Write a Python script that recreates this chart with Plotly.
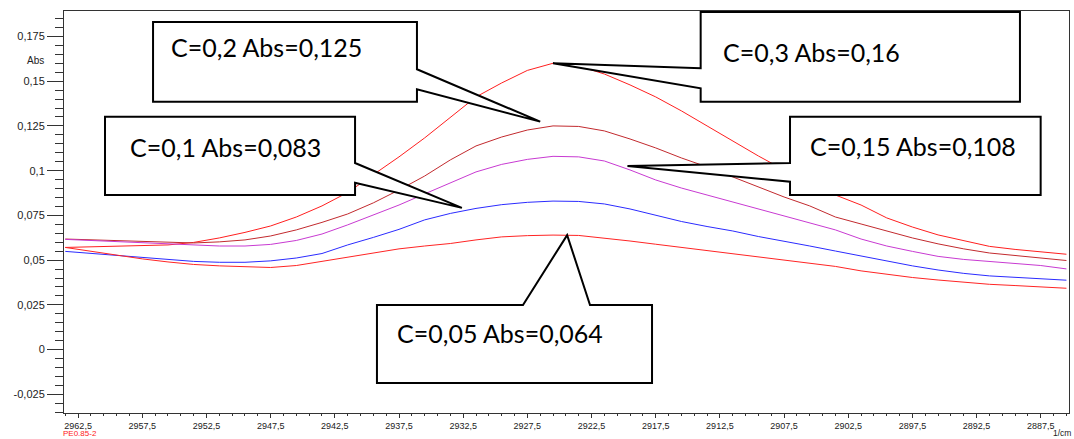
import numpy as np
import plotly.graph_objects as go

# Wavenumber grid (1/cm), sampled every 2 cm-1
wavenumber = [2963.5, 2961.5, 2959.5, 2957.5, 2955.5, 2953.5, 2951.5, 2949.5, 2947.5, 2945.5,
              2943.5, 2941.5, 2939.5, 2937.5, 2935.5, 2933.5, 2931.5, 2929.5, 2927.5, 2925.5,
              2923.5, 2921.5, 2919.5, 2917.5, 2915.5, 2913.5, 2911.5, 2909.5, 2907.5, 2905.5,
              2903.5, 2901.5, 2899.5, 2897.5, 2895.5, 2893.5, 2891.5, 2889.5, 2887.5, 2885.5]

# Absorbance spectra for each concentration
abs_c030 = [0.0571, 0.0574, 0.0577, 0.0579, 0.0585, 0.0599, 0.0624, 0.0655, 0.0691, 0.0741,
            0.0803, 0.0878, 0.0976, 0.1077, 0.1183, 0.1300, 0.1412, 0.1490, 0.1560, 0.1600,
            0.1585, 0.1540, 0.1479, 0.1412, 0.1334, 0.1250, 0.1166, 0.1082, 0.1004, 0.0931,
            0.0864, 0.0808, 0.0736, 0.0685, 0.0641, 0.0607, 0.0577, 0.0560, 0.0546, 0.0533]
abs_c020 = [0.0618, 0.0613, 0.0607, 0.0602, 0.0599, 0.0596, 0.0602, 0.0613, 0.0635, 0.0669,
            0.0711, 0.0758, 0.0820, 0.0892, 0.0970, 0.1060, 0.1138, 0.1188, 0.1227, 0.1250,
            0.1247, 0.1222, 0.1177, 0.1127, 0.1071, 0.1021, 0.0965, 0.0909, 0.0853, 0.0803,
            0.0741, 0.0702, 0.0663, 0.0624, 0.0591, 0.0563, 0.0540, 0.0526, 0.0515, 0.0498]
abs_c015 = [0.0616, 0.0610, 0.0604, 0.0596, 0.0591, 0.0582, 0.0579, 0.0579, 0.0588, 0.0610,
            0.0646, 0.0697, 0.0753, 0.0808, 0.0870, 0.0931, 0.0993, 0.1035, 0.1063, 0.1080,
            0.1077, 0.1054, 0.1004, 0.0948, 0.0903, 0.0864, 0.0825, 0.0783, 0.0747, 0.0705,
            0.0669, 0.0618, 0.0579, 0.0549, 0.0521, 0.0504, 0.0492, 0.0482, 0.0470, 0.0451]
abs_c010 = [0.0549, 0.0537, 0.0526, 0.0515, 0.0504, 0.0493, 0.0488, 0.0488, 0.0496, 0.0512,
            0.0537, 0.0585, 0.0627, 0.0672, 0.0725, 0.0761, 0.0789, 0.0810, 0.0823, 0.0830,
            0.0828, 0.0814, 0.0786, 0.0750, 0.0716, 0.0688, 0.0663, 0.0632, 0.0607, 0.0579,
            0.0551, 0.0523, 0.0496, 0.0468, 0.0445, 0.0426, 0.0412, 0.0403, 0.0398, 0.0388]
abs_c005 = [0.0571, 0.0549, 0.0526, 0.0507, 0.0490, 0.0476, 0.0468, 0.0462, 0.0459, 0.0470,
            0.0493, 0.0515, 0.0540, 0.0563, 0.0579, 0.0593, 0.0613, 0.0630, 0.0637, 0.0640,
            0.0638, 0.0624, 0.0607, 0.0589, 0.0571, 0.0554, 0.0535, 0.0517, 0.0498, 0.0482,
            0.0465, 0.0440, 0.0420, 0.0403, 0.0389, 0.0377, 0.0365, 0.0358, 0.0352, 0.0343]

series = [
    ("C=0,3", abs_c030, "#ff1f1f"),
    ("C=0,2", abs_c020, "#c22a2e"),
    ("C=0,15", abs_c015, "#c83ad2"),
    ("C=0,1", abs_c010, "#2b2bff"),
    ("C=0,05", abs_c005, "#ff2424"),
]

# Axis ticks
x_tickvals = [2962.5, 2957.5, 2952.5, 2947.5, 2942.5, 2937.5, 2932.5, 2927.5,
              2922.5, 2917.5, 2912.5, 2907.5, 2902.5, 2897.5, 2892.5, 2887.5]
x_ticktext = ["2962,5", "2957,5", "2952,5", "2947,5", "2942,5", "2937,5", "2932,5", "2927,5",
              "2922,5", "2917,5", "2912,5", "2907,5", "2902,5", "2897,5", "2892,5", "2887,5"]
y_tickvals = [-0.025, 0.0, 0.025, 0.05, 0.075, 0.1, 0.125, 0.15, 0.175]
y_ticktext = ["-0,025", "0", "0,025", "0,05", "0,075", "0,1", "0,125", "0,15", "0,175"]

X_RANGE = [2963.6, 2885.3]
Y_RANGE = [-0.0354, 0.1892]


def to_paper(w, a):
    px = (w - X_RANGE[0]) / (X_RANGE[1] - X_RANGE[0])
    py = (a - Y_RANGE[0]) / (Y_RANGE[1] - Y_RANGE[0])
    return px, py


fig = go.Figure()
for name, vals, color in series:
    fig.add_trace(go.Scatter(x=wavenumber, y=vals, mode="lines", name=name,
                             line=dict(color=color, width=1), showlegend=False))

# Callout labels: text, pointer tip (data), box (paper), notch on the box edge
peak_030 = max(abs_c030)
peak_005 = max(abs_c005)
w_peak_030 = wavenumber[abs_c030.index(peak_030)]

callouts = [
    dict(text="C=0,2 Abs=0,125", tip=(2926.5, 0.1274), box=(0.0886, 0.3512, 0.7744, 0.9726),
         side="right", notch=(0.8052, 0.855), center=(0.2010, 0.9104)),
    dict(text="C=0,3 Abs=0,16", tip=(w_peak_030, peak_030), box=(0.6335, 0.9512, 0.7744, 0.9975),
         side="left", notch=(0.8077, 0.8575), center=(0.7433, 0.898)),
    dict(text="C=0,1 Abs=0,083", tip=(2932.6, 0.0792), box=(0.0408, 0.2896, 0.5423, 0.7371),
         side="right", notch=(0.5729, 0.6219), center=(0.1602, 0.6617)),
    dict(text="C=0,15 Abs=0,108", tip=(2919.7, 0.1026), box=(0.7224, 0.9718, 0.5423, 0.7371),
         side="left", notch=(0.5754, 0.6219), center=(0.8448, 0.6642)),
    dict(text="C=0,05 Abs=0,064", tip=(2924.4, peak_005), box=(0.3114, 0.5851, 0.0746, 0.2687),
         side="top", notch=(0.4567, 0.5234), center=(0.4338, 0.199)),
]

shapes = []
annotations = []
for c in callouts:
    x0, x1, y0, y1 = c["box"]
    tx, ty = to_paper(*c["tip"])
    n1, n2 = c["notch"]
    if c["side"] == "right":
        pts = [(x0, y1), (x1, y1), (x1, n2), (tx, ty), (x1, n1), (x1, y0), (x0, y0)]
    elif c["side"] == "left":
        pts = [(x0, y1), (x1, y1), (x1, y0), (x0, y0), (x0, n1), (tx, ty), (x0, n2)]
    else:
        pts = [(x0, y1), (n1, y1), (tx, ty), (n2, y1), (x1, y1), (x1, y0), (x0, y0)]
    path = "M " + " L ".join(f"{px:.5f},{py:.5f}" for px, py in pts) + " Z"
    shapes.append(dict(type="path", xref="paper", yref="paper", path=path,
                       fillcolor="white", line=dict(color="black", width=2), layer="above"))
    annotations.append(dict(text=c["text"], x=c["center"][0], y=c["center"][1],
                            xref="paper", yref="paper", showarrow=False,
                            xanchor="center", yanchor="middle",
                            font=dict(family="Lato", size=25, color="black")))

annotations += [
    dict(text="Abs", x=-0.028, y=0.878, xref="paper", yref="paper", showarrow=False,
         xanchor="center", yanchor="middle",
         font=dict(family="Liberation Sans", size=10, color="#222")),
    dict(text="PE0.85-2", x=-0.002, y=-0.0647, xref="paper", yref="paper", showarrow=False,
         xanchor="left", yanchor="bottom", borderpad=0,
         font=dict(family="Liberation Sans", size=8, color="#ff2020")),
    dict(text="1/cm", x=1.003, y=-0.0647, xref="paper", yref="paper", showarrow=False,
         xanchor="right", yanchor="bottom", borderpad=0,
         font=dict(family="Liberation Sans", size=8.5, color="#222")),
]

fig.update_layout(
    width=1074, height=439,
    margin=dict(l=64, r=5, t=11, b=26),
    paper_bgcolor="white", plot_bgcolor="white",
    shapes=shapes, annotations=annotations,
    xaxis=dict(range=X_RANGE, showgrid=False, zeroline=False,
               showline=True, mirror=True, linecolor="#333", linewidth=1,
               tickmode="array", tickvals=x_tickvals, ticktext=x_ticktext,
               ticks="outside", ticklen=4, tickcolor="#333", tickwidth=1,
               tickfont=dict(family="Liberation Sans", size=9, color="#222"),
               minor=dict(tickmode="array", tickvals=list(np.arange(2963.5, 2885.0, -1.0)),
                          ticks="outside", ticklen=2, tickcolor="#333")),
    yaxis=dict(range=Y_RANGE, showgrid=False, zeroline=False,
               showline=True, mirror=True, linecolor="#333", linewidth=1,
               tickmode="array", tickvals=y_tickvals, ticktext=y_ticktext,
               ticks="outside", ticklen=16, tickcolor="#333", tickwidth=1,
               tickfont=dict(family="Liberation Sans", size=11, color="#222"),
               minor=dict(tickmode="array", tickvals=list(np.arange(-0.035, 0.1891, 0.005)),
                          ticks="outside", ticklen=8, tickcolor="#333")),
)

fig.write_html("out.html")
